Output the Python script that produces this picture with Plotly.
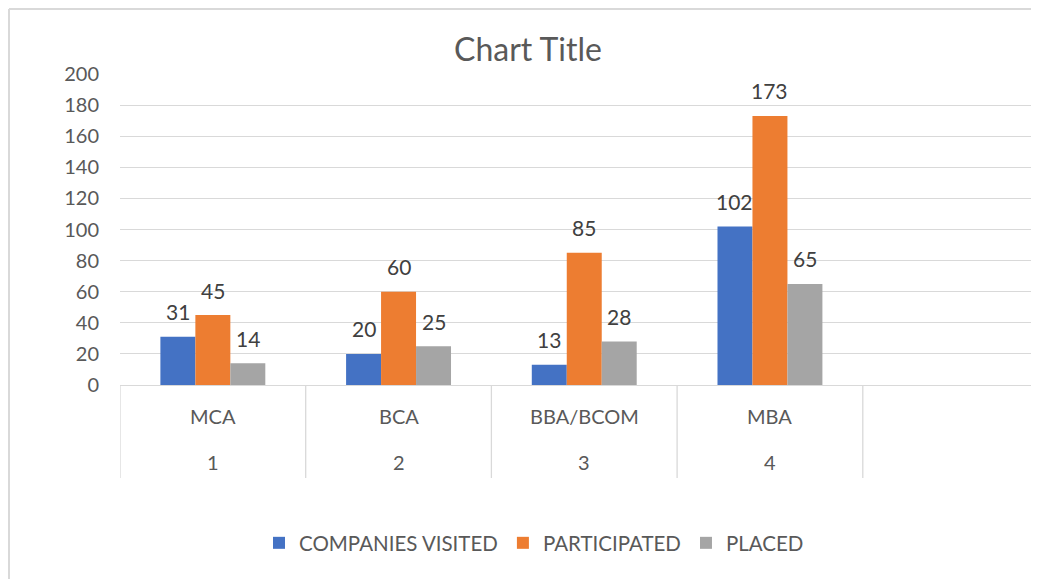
import plotly.graph_objects as go

categories = ["MCA", "BCA", "BBA/BCOM", "MBA"]
outer_labels = ["1", "2", "3", "4"]
series_names = ["COMPANIES VISITED", "PARTICIPATED", "PLACED"]
companies_visited = [31, 20, 13, 102]
participated = [45, 60, 85, 173]
placed = [14, 25, 28, 65]
colors = ["#4472C4", "#ED7D31", "#A5A5A5"]
y_ticks = [0, 20, 40, 60, 80, 100, 120, 140, 160, 180, 200]

OFF = 8  # page offset of the figure in the screenshot
W, H = 1047, 579
L, T = 120 - OFF, 74 - OFF
B = H - (385 - OFF)
R = 0
PW, PH = W - L - R, H - T - B
FONT = "Lato"
TXT = "#595959"
GRID = "#D9D9D9"

BARGAP = 0.435
bar_w = (1 - BARGAP) / 3
offsets = [-bar_w, 0, bar_w]

fig = go.Figure()
annotations = []
for k, (name, vals, col) in enumerate(zip(series_names, [companies_visited, participated, placed], colors)):
    xs = list(range(len(categories)))
    fig.add_trace(go.Bar(
        x=xs, y=vals, name=name,
        marker=dict(color=col, line=dict(width=0)),
    ))
    for i, v in zip(xs, vals):
        annotations.append(dict(x=i + offsets[k], y=v, xref="x", yref="y", text=str(v),
                                showarrow=False, yanchor="middle", yshift=25,
                                font=dict(family=FONT, size=21, color="#404040")))

slot_px = 185.7
x_max = -0.5 + PW / slot_px

def sy(py):  # screen pixel y -> paper
    return (H - B - (py - OFF)) / PH

def sx(px):  # screen pixel x -> paper
    return ((px - OFF) - L) / PW

shapes = []
for i in range(len(categories) + 1):
    shapes.append(dict(type="line", xref="x", yref="paper",
                       x0=i - 0.5, x1=i - 0.5, y0=0, y1=sy(478),
                       line=dict(color=GRID, width=1.3)))
# chart border (left & top)
shapes.append(dict(type="line", xref="paper", yref="paper",
                   x0=sx(9), x1=sx(9), y0=sy(9), y1=sy(600),
                   line=dict(color="#D9D9D9", width=2)))
shapes.append(dict(type="line", xref="paper", yref="paper",
                   x0=sx(9), x1=sx(1100), y0=sy(9), y1=sy(9),
                   line=dict(color="#D9D9D9", width=2)))

for i, (c, o) in enumerate(zip(categories, outer_labels)):
    annotations.append(dict(x=i, y=sy(416), xref="x", yref="paper", text=c,
                            showarrow=False, yanchor="middle",
                            font=dict(family=FONT, size=20, color=TXT)))
    annotations.append(dict(x=i, y=sy(462), xref="x", yref="paper", text=o,
                            showarrow=False, yanchor="middle",
                            font=dict(family=FONT, size=20, color=TXT)))

fig.update_layout(
    width=W, height=H,
    margin=dict(l=L, r=R, t=T, b=B, autoexpand=False),
    paper_bgcolor="white", plot_bgcolor="white",
    title=dict(text="Chart Title", x=(528 - OFF) / W, xanchor="center",
               y=1 - (50 - OFF) / H, yanchor="middle",
               font=dict(family=FONT, size=32, color=TXT)),
    barmode="group", bargap=BARGAP, bargroupgap=0,
    xaxis=dict(range=[-0.5, x_max], showticklabels=False, showgrid=False,
               zeroline=False, showline=False, ticks=""),
    yaxis=dict(range=[0, 200], tickvals=y_ticks, showgrid=True, gridcolor=GRID,
               gridwidth=1.3, zeroline=True, zerolinecolor=GRID, zerolinewidth=1.3,
               showline=False, ticks="", ticklabelstandoff=20,
               tickfont=dict(family=FONT, size=20, color=TXT)),
    legend=dict(orientation="h", x=sx(534), xanchor="center",
                y=sy(543), yanchor="middle",
                font=dict(family=FONT, size=20.5, color=TXT),
                itemwidth=30, tracegroupgap=0),
    shapes=shapes, annotations=annotations,
    showlegend=True,
)

fig.write_html("out.html")
